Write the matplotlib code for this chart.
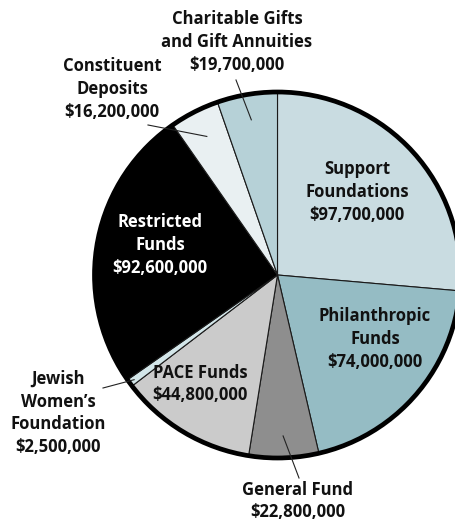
import matplotlib.pyplot as plt
import numpy as np

labels = ["Support\nFoundations", "Philanthropic\nFunds", "General Fund", "PACE Funds",
          "Jewish\nWomen\u2019s\nFoundation", "Restricted\nFunds", "Constituent\nDeposits",
          "Charitable Gifts\nand Gift Annuities"]
amounts = [97.7, 74.0, 22.8, 44.8, 2.5, 92.6, 16.2, 19.7]  # millions of dollars
colors = ["#c9dce1", "#95bcc4", "#8e8e8e", "#cbcbcb", "#d3e6e9", "#000000", "#e9f0f2", "#b6d1d7"]

W, H = 455, 519
cx, cy, R = 277.5, H - 275, 183

fig = plt.figure(figsize=(W / 100, H / 100), dpi=100)
ax = fig.add_axes([0, 0, 1, 1])
wedges, _ = ax.pie(amounts, colors=colors, startangle=90, counterclock=False,
                   center=(cx, cy), radius=R,
                   wedgeprops=dict(edgecolor="#1a1a1a", linewidth=0.8))
ring = plt.Circle((cx, cy), R, fill=False, edgecolor="black", linewidth=3.4)
ax.add_patch(ring)
ax.set_xlim(0, W)
ax.set_ylim(0, H)
ax.set_aspect("equal")
ax.axis("off")

font = dict(family="Open Sans", fontweight="bold", fontsize=12, ha="center", va="center",
            linespacing=1.33)

def money(v):
    return "${:,.0f}".format(v * 1e6)

# label positions in pixel coords (x from left, y from top), text colour
pos = {
    0: (357, 192, "#111111"),
    1: (375, 339, "#111111"),
    2: (298, 501, "#111111"),
    3: (200, 384, "#111111"),
    4: (58, 413, "#111111"),
    5: (160, 245, "white"),
    6: (112, 89, "#111111"),
    7: (237, 42, "#111111"),
}
# leader start (near text), in pixel coords
leaders = {2: (299, 478), 4: (103, 388), 6: (148, 125), 7: (236, 80)}
leader_r = {2: 0.88, 4: 0.97, 6: 0.85, 7: 0.86}

for i, (x, y, c) in pos.items():
    ax.text(x, H - y, labels[i] + "\n" + money(amounts[i]), color=c, **font)

for i, (lx, ly) in leaders.items():
    w = wedges[i]
    mid = np.deg2rad((w.theta1 + w.theta2) / 2)
    px = cx + leader_r[i] * R * np.cos(mid)
    py = cy + leader_r[i] * R * np.sin(mid)
    ax.plot([lx, px], [H - ly, py], color="#222222", linewidth=0.8)

fig.savefig("out.png", dpi=100)
